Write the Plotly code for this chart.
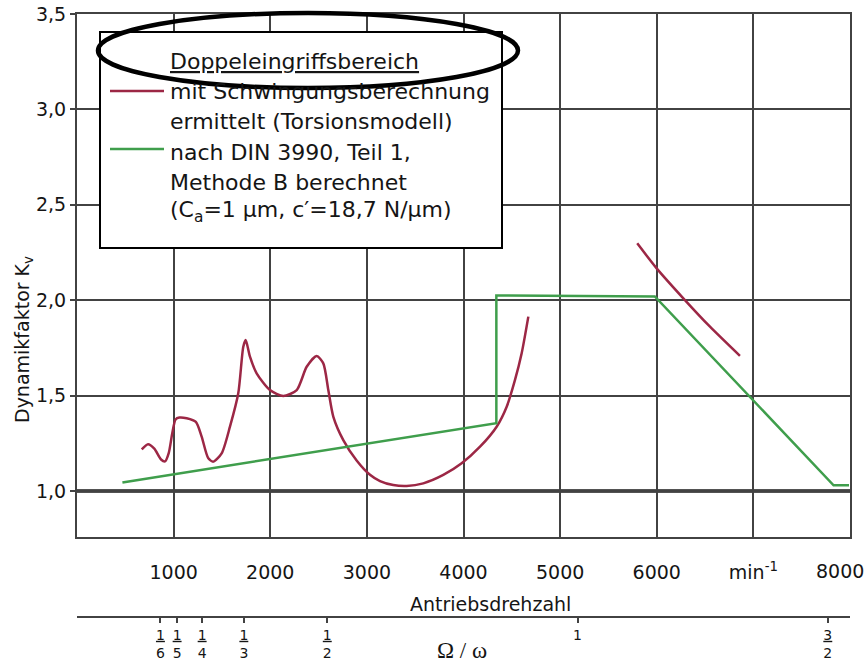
import plotly.graph_objects as go

# ---------------- data ----------------
# red: mit Schwingungsberechnung ermittelt (Torsionsmodell), two speed ranges
red_low_rpm = [670, 735, 800, 870, 911, 950, 985, 1020, 1060, 1135, 1230, 1290, 1359, 1411,
               1497, 1583, 1669, 1721, 1746, 1790, 1859, 1997, 2135, 2274, 2377, 2480, 2549,
               2601, 2653, 2756, 2894, 3032, 3136, 3273, 3412, 3584, 3791, 3981, 4171, 4343,
               4447, 4533, 4602, 4671]
red_low_kv = [1.218, 1.245, 1.222, 1.165, 1.155, 1.20, 1.30, 1.375, 1.385, 1.381, 1.362, 1.285,
              1.171, 1.154, 1.197, 1.337, 1.512, 1.756, 1.791, 1.704, 1.617, 1.529, 1.498,
              1.529, 1.651, 1.708, 1.669, 1.529, 1.389, 1.267, 1.160, 1.085, 1.052, 1.031,
              1.026, 1.040, 1.084, 1.145, 1.232, 1.337, 1.442, 1.582, 1.722, 1.914]
red_high_rpm = [5798, 5999, 6275, 6551, 6861]
red_high_kv = [2.298, 2.167, 2.010, 1.861, 1.708]

# green: nach DIN 3990, Teil 1, Methode B berechnet
green_rpm = [470, 4340, 4340, 5980, 7830, 7990]
green_kv = [1.045, 1.355, 2.025, 2.020, 1.030, 1.030]

# axes
x_tickvals = [1000, 2000, 3000, 4000, 5000, 6000, 7000, 8000]
x_ticktext = ["1000", "2000", "3000", "4000", "5000", "6000", "min<sup>-1</sup>", ""]
x_last_label = "8000"          # drawn right-aligned at the frame edge
y_tickvals = [1.0, 1.5, 2.0, 2.5, 3.0, 3.5]
y_ticktext = ["1,0", "1,5", "2,0", "2,5", "3,0", "3,5"]
resonance_rpm = 5180          # Ω/ω = 1
ratio_vals = [1/6, 1/5, 1/4, 1/3, 1/2, 1, 3/2]
ratio_text = ["<u>1</u><br>6", "<u>1</u><br>5", "<u>1</u><br>4", "<u>1</u><br>3",
              "<u>1</u><br>2", "1", "<u>3</u><br>2"]

# ---------------- layout helpers ----------------
W, H = 868, 663
ML, MR, MT, MB = 77, 18, 14, 5
PW, PH = W - ML - MR, H - MT - MB


def px(xp):
    return (xp - ML) / PW


def py(yp):
    return (H - MB - yp) / PH


FONT = "DejaVu Sans"
TXT = "#151515"
GRID = "#424242"
RED = "#9c2745"
GREEN = "#3f9e4c"

fig = go.Figure()
fig.add_trace(go.Scatter(x=red_low_rpm, y=red_low_kv, mode="lines",
                         line=dict(color=RED, width=2.5, shape="spline", smoothing=0.7),
                         showlegend=False, hoverinfo="skip"))
fig.add_trace(go.Scatter(x=red_high_rpm, y=red_high_kv, mode="lines",
                         line=dict(color=RED, width=2.5, shape="spline", smoothing=0.7),
                         showlegend=False, hoverinfo="skip"))
fig.add_trace(go.Scatter(x=green_rpm, y=green_kv, mode="lines",
                         line=dict(color=GREEN, width=2.5),
                         showlegend=False, hoverinfo="skip"))
# carrier trace for the Ω/ω axis
fig.add_trace(go.Scatter(x=ratio_vals, y=[None] * len(ratio_vals), xaxis="x2", yaxis="y",
                         mode="markers", showlegend=False, hoverinfo="skip"))

y_bottom = 1.0 - (537 - 491) / 190.8

fig.update_layout(
    width=W, height=H,
    margin=dict(l=ML, r=MR, t=MT, b=MB, autoexpand=False),
    paper_bgcolor="white", plot_bgcolor="white",
    font=dict(family=FONT, color=TXT, size=19),
    showlegend=False,
    xaxis=dict(range=[0, 8000], tickvals=x_tickvals, ticktext=x_ticktext,
               showgrid=True, gridcolor=GRID, gridwidth=2,
               showline=True, linecolor=GRID, linewidth=2, mirror=True,
               ticks="", ticklabelstandoff=17, zeroline=False,
               automargin=False,
               tickfont=dict(size=19, color=TXT), anchor="y"),
    yaxis=dict(range=[y_bottom, 3.5], tickvals=y_tickvals, ticktext=y_ticktext,
               domain=[py(537), 1], automargin=False,
               showgrid=True, gridcolor=GRID, gridwidth=2,
               showline=True, linecolor=GRID, linewidth=2, mirror=True,
               ticks="outside", ticklen=5, tickcolor=GRID, tickwidth=2,
               zeroline=False, tickfont=dict(size=19, color=TXT)),
    xaxis2=dict(range=[0, 8000 / resonance_rpm], tickvals=ratio_vals, ticktext=ratio_text,
                anchor="free", position=py(617), overlaying="x", side="bottom",
                showgrid=False, zeroline=False, automargin=False,
                showline=True, linecolor=GRID, linewidth=2,
                ticks="outside", ticklen=5, tickcolor=GRID, tickwidth=1.5,
                tickfont=dict(size=14, color=TXT)),
)

shapes = [
    # thick reference line at K_v = 1,0
    dict(type="line", xref="x domain", yref="y", x0=0, x1=1, y0=1.0, y1=1.0,
         line=dict(color="#1a1a1a", width=3.5), layer="below"),
    # legend box
    dict(type="rect", xref="paper", yref="paper", x0=px(100), x1=px(502), y0=py(248), y1=py(32),
         fillcolor="white", line=dict(color="black", width=2), layer="above"),
    dict(type="line", xref="paper", yref="paper", x0=px(110), x1=px(164), y0=py(91), y1=py(91),
         line=dict(color=RED, width=2.5), layer="above"),
    dict(type="line", xref="paper", yref="paper", x0=px(110), x1=px(164), y0=py(149), y1=py(149),
         line=dict(color=GREEN, width=2.5), layer="above"),
    # highlight ellipse
    dict(type="circle", xref="paper", yref="paper", x0=px(98), x1=px(518), y0=py(88), y1=py(13),
         line=dict(color="black", width=4.5), layer="above"),
]
fig.update_layout(shapes=shapes)

legend_lines = [
    ("<u>Doppeleingriffsbereich</u>", 61),
    ("mit Schwingungsberechnung", 92),
    ("ermittelt (Torsionsmodell)", 122),
    ("nach DIN 3990, Teil 1,", 152),
    ("Methode B berechnet", 182),
    ("(C<sub>a</sub>=1 µm, c′=18,7 N/µm)", 212),
]
annotations = []
for txt, yy in legend_lines:
    annotations.append(dict(text=txt, xref="paper", yref="paper", x=px(168), y=py(yy),
                            xanchor="left", yanchor="middle", showarrow=False,
                            font=dict(size=22, family=FONT, color=TXT)))
annotations += [
    dict(text=x_last_label, xref="paper", yref="paper", x=px(866), y=py(571),
         xanchor="right", yanchor="middle", showarrow=False, font=dict(size=19, color=TXT)),
    dict(text="Antriebsdrehzahl", xref="paper", yref="paper", x=px(490), y=py(604),
         xanchor="center", yanchor="middle", showarrow=False, font=dict(size=19, color=TXT)),
    dict(text="Ω / ω", xref="paper", yref="paper", x=px(462), y=py(650),
         xanchor="center", yanchor="middle", showarrow=False,
         font=dict(size=23, family="Liberation Serif", color=TXT)),
    dict(text="Dynamikfaktor K<sub>v</sub>", xref="paper", yref="paper", x=px(23), y=py(340),
         xanchor="center", yanchor="middle", showarrow=False, textangle=-90,
         font=dict(size=19, color=TXT)),
]
fig.update_layout(annotations=annotations)

fig.write_html("out.html")
